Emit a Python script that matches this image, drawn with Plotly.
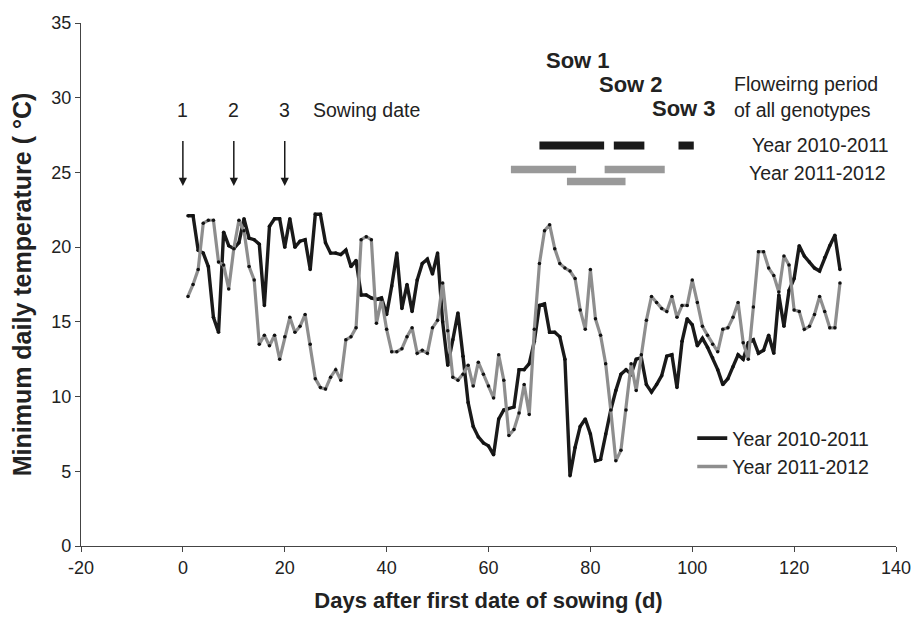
import plotly.graph_objects as go

# ---------------- data ----------------
days = list(range(1, 130))

temp_2010_2011 = [
    22.1, 22.1, 19.8, 19.6, 18.7, 15.3, 14.3, 21.0, 20.1, 19.9,
    20.3, 21.9, 20.6, 20.5, 20.2, 16.1, 21.4, 21.9, 21.9, 20.0,
    21.9, 20.0, 20.4, 20.5, 18.5, 22.2, 22.2, 20.3, 19.6, 19.6,
    19.5, 19.8, 18.7, 19.1, 16.8, 16.8, 16.6, 16.5, 16.6, 15.5,
    17.4, 19.6, 15.9, 17.5, 15.7, 17.8, 18.9, 19.2, 18.2, 19.6,
    15.0, 12.1, 13.8, 15.6, 12.7, 9.6, 8.0, 7.3, 6.9, 6.7,
    6.1, 8.5, 9.1, 9.2, 9.3, 11.8, 11.8, 12.2, 13.7, 16.1,
    16.2, 14.3, 14.3, 14.0, 12.5, 4.7, 6.6, 8.0, 8.5, 7.5,
    5.7, 5.8, 7.5, 9.1, 10.4, 11.5, 11.8, 11.5, 12.5, 12.6,
    10.8, 10.3, 10.8, 11.4, 12.7, 12.8, 10.6, 13.7, 15.2, 14.8,
    13.4, 13.9, 13.3, 12.6, 11.8, 10.8, 11.2, 12.0, 12.8, 12.5,
    13.6, 13.8, 12.9, 13.1, 14.1, 12.9, 16.8, 14.7, 17.1, 17.9,
    20.1, 19.4, 19.0, 18.6, 18.4, 19.3, 20.1, 20.8, 18.5,
]

temp_2011_2012 = [
    16.7, 17.5, 18.5, 21.6, 21.8, 21.8, 19.0, 18.8, 17.2, 19.9,
    21.8, 21.1, 18.7, 17.8, 13.5, 14.1, 13.4, 14.1, 12.5, 14.0,
    15.3, 14.3, 14.7, 15.5, 13.5, 11.2, 10.6, 10.5, 11.3, 11.8,
    11.1, 13.8, 14.0, 14.6, 20.5, 20.7, 20.5, 14.9, 16.5, 14.5,
    13.0, 13.0, 13.2, 14.0, 14.6, 12.9, 13.1, 12.9, 14.6, 15.1,
    17.6, 14.4, 11.3, 11.1, 11.5, 12.1, 10.7, 12.3, 11.5, 10.7,
    9.9, 12.8, 11.1, 7.4, 7.8, 8.9, 10.8, 8.8, 14.5, 18.9,
    21.1, 21.5, 19.9, 18.9, 18.6, 18.4, 17.9, 15.8, 14.5, 18.5,
    15.2, 14.1, 12.2, 9.1, 5.7, 6.4, 9.1, 12.2, 10.4, 12.8,
    15.1, 16.7, 16.3, 15.9, 15.7, 16.7, 15.3, 16.1, 16.1, 17.8,
    16.3, 14.7, 14.1, 13.5, 13.0, 14.5, 14.6, 15.3, 16.3, 13.6,
    12.5, 16.0, 19.7, 19.7, 18.6, 18.1, 17.0, 19.4, 18.8, 15.8,
    15.7, 14.5, 14.7, 15.5, 16.7, 15.7, 14.6, 14.6, 17.6,
]

x_ticks = [-20, 0, 20, 40, 60, 80, 100, 120, 140]
x_tick_labels = ["-20", "0", "20", "40", "60", "80", "100", "120", "140"]
y_ticks = [0, 5, 10, 15, 20, 25, 30, 35]

sow_days = [0, 10, 20]
sow_labels = ["1", "2", "3"]

# flowering periods (days) per sowing
flower_2010_start = [70.0, 84.6, 97.3]
flower_2010_end = [82.7, 90.6, 100.3]
flower_2011_start = [64.4, 82.8, 75.4]
flower_2011_end = [77.2, 94.6, 86.9]
sow_names = ["Sow 1", "Sow 2", "Sow 3"]

# ---------------- styling ----------------
FONT = "Liberation Sans, Arial, sans-serif"
BLACK = "#1a1a1a"
GRAY = "#8e8e8e"
TXT = "#222222"
AX = "#444444"

fig = go.Figure()

fig.add_trace(go.Scatter(
    x=days, y=temp_2010_2011, mode="lines+markers", showlegend=False,
    line=dict(color=BLACK, width=3.4),
    marker=dict(color="#111111", size=3.5),
))
fig.add_trace(go.Scatter(
    x=days, y=temp_2011_2012, mode="lines+markers", showlegend=False,
    line=dict(color=GRAY, width=3.2),
    marker=dict(color="#111111", size=3.5),
))

# legend entries (lines only)
fig.add_trace(go.Scatter(x=[None], y=[None], mode="lines", name="Year 2010-2011",
                         line=dict(color=BLACK, width=3.6)))
fig.add_trace(go.Scatter(x=[None], y=[None], mode="lines", name="Year 2011-2012",
                         line=dict(color=GRAY, width=3.6)))

# flowering period bars
level_2010 = 26.8
levels_2011 = [25.2, 25.2, 24.4]
for s, e in zip(flower_2010_start, flower_2010_end):
    fig.add_trace(go.Scatter(x=[s, e], y=[level_2010, level_2010], mode="lines",
                             showlegend=False, hoverinfo="skip",
                             line=dict(color=BLACK, width=8)))
for s, e, lv in zip(flower_2011_start, flower_2011_end, levels_2011):
    fig.add_trace(go.Scatter(x=[s, e], y=[lv, lv], mode="lines",
                             showlegend=False, hoverinfo="skip",
                             line=dict(color="#999999", width=7.5)))

ANN = dict(size=19.5, color=TXT, family=FONT)
annotations = []
# sowing arrows and numbers
for d, lab in zip(sow_days, sow_labels):
    annotations.append(dict(x=d, y=24.1, ax=d, ay=27.2, xref="x", yref="y",
                            axref="x", ayref="y", text="", showarrow=True,
                            arrowhead=2, arrowsize=1.1, arrowwidth=1.5,
                            arrowcolor=BLACK))
    annotations.append(dict(x=d, y=29.2, xref="x", yref="y", text=lab,
                            showarrow=False, font=ANN))
annotations.append(dict(x=25.2, y=29.2, xref="x", yref="y", text="Sowing date",
                        xanchor="left", showarrow=False, font=ANN))

sow_pos = [(77.6, 32.5), (87.9, 30.9), (98.4, 29.3)]
for name, (sx, sy) in zip(sow_names, sow_pos):
    annotations.append(dict(x=sx, y=sy, xref="x", yref="y", text="<b>" + name + "</b>",
                            showarrow=False, font=dict(size=22, color=TXT, family=FONT)))

annotations.append(dict(x=107.8, y=30.9, xref="x", yref="y", text="Floweirng period",
                        xanchor="left", showarrow=False, font=ANN))
annotations.append(dict(x=107.8, y=29.2, xref="x", yref="y", text="of all genotypes",
                        xanchor="left", showarrow=False, font=ANN))
annotations.append(dict(x=111.3, y=26.85, xref="x", yref="y", text="Year 2010-2011",
                        xanchor="left", showarrow=False, font=ANN))
annotations.append(dict(x=110.8, y=24.95, xref="x", yref="y", text="Year 2011-2012",
                        xanchor="left", showarrow=False, font=ANN))

# The page places the figure 8px from the edges, so the figure is sized to
# fit inside the window without overflowing (no scrollbars).
fig.update_layout(
    width=906, height=605,
    margin=dict(l=73, r=18, t=15, b=67),
    paper_bgcolor="white", plot_bgcolor="white",
    font=dict(family=FONT, size=18, color=TXT),
    annotations=annotations,
    legend=dict(x=0.750, y=0.243, xanchor="left", yanchor="top",
                bgcolor="rgba(0,0,0,0)", font=ANN,
                tracegroupgap=0),
    xaxis=dict(range=[-20, 140], tickvals=x_ticks, ticktext=x_tick_labels,
               automargin=False, ticklabeloverflow="allow",
               showgrid=False, zeroline=False, showline=True, linecolor=AX,
               linewidth=1.3, ticks="outside", ticklen=5, tickcolor=AX,
               tickfont=dict(size=18, color=TXT, family=FONT),
               title=dict(text="<b>Days after first date of sowing (d)</b>",
                          font=dict(size=22, color=TXT, family=FONT), standoff=19)),
    yaxis=dict(range=[0, 35], tickvals=y_ticks, automargin=False,
               showgrid=False, zeroline=False, showline=True, linecolor=AX,
               linewidth=1.3, ticks="outside", ticklen=5, tickcolor=AX,
               tickfont=dict(size=18, color=TXT, family=FONT),
               title=dict(text="<b>Minimum daily temperature ( °C)</b>",
                          font=dict(size=25, color=TXT, family=FONT), standoff=15)),
)

fig.write_html("out.html")
